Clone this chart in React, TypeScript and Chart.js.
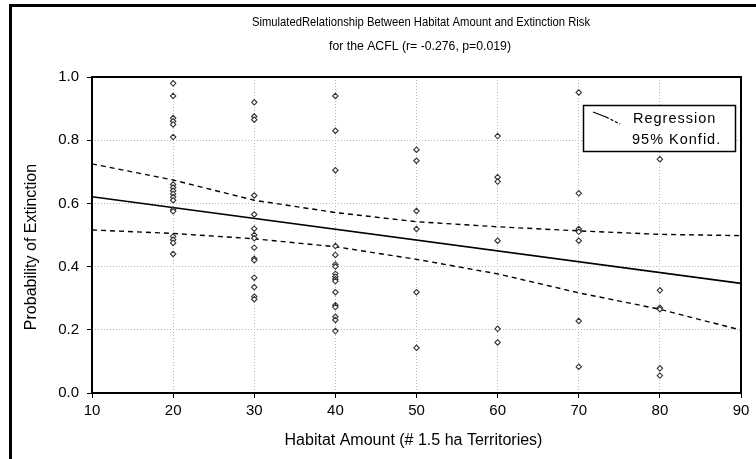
import React, { useEffect, useRef } from 'react';
import { Chart, registerables } from 'chart.js';

Chart.register(...registerables);

// ---- text ----
const titleLine1 = 'SimulatedRelationship Between Habitat Amount and Extinction Risk';
const titleLine2 = 'for the ACFL (r= -0.276, p=0.019)';
const xAxisTitle = 'Habitat Amount (# 1.5 ha Territories)';
const yAxisTitle = 'Probability of Extinction';
const legendLabels = ['Regression', '95% Konfid.'];

// ---- tick labels ----
const xTickValues = [10, 20, 30, 40, 50, 60, 70, 80, 90];
const yTickLabels = ['0.0', '0.2', '0.4', '0.6', '0.8', '1.0'];

// ---- observed points (habitat amount -> probability of extinction) ----
const habitatColumns = [20, 30, 40, 50, 60, 70, 80];
const risk20 = [0.98, 0.94, 0.87, 0.86, 0.85, 0.81, 0.66, 0.65, 0.64, 0.63, 0.62, 0.61, 0.58, 0.575, 0.495, 0.485, 0.475, 0.44];
const risk30 = [0.92, 0.875, 0.865, 0.625, 0.565, 0.52, 0.5, 0.49, 0.46, 0.425, 0.42, 0.365, 0.335, 0.305, 0.297];
const risk40 = [0.94, 0.83, 0.705, 0.465, 0.437, 0.407, 0.4, 0.377, 0.368, 0.36, 0.354, 0.319, 0.278, 0.272, 0.241, 0.231, 0.196];
const risk50 = [0.77, 0.735, 0.576, 0.519, 0.319, 0.143];
const risk60 = [0.813, 0.683, 0.669, 0.482, 0.203, 0.16];
const risk70 = [0.951, 0.632, 0.519, 0.51, 0.482, 0.228, 0.083];
const risk80 = [0.74, 0.325, 0.27, 0.265, 0.078, 0.055];
const riskByColumn = [risk20, risk30, risk40, risk50, risk60, risk70, risk80];

// ---- regression line and 95% confidence band ----
const regressionX = [10, 90];
const regressionY = [0.621, 0.347];
const bandX = [10, 20, 30, 40, 50, 60, 70, 80, 90];
const upperBandY = [0.725, 0.674, 0.61, 0.571, 0.542, 0.526, 0.513, 0.502, 0.498];
const lowerBandY = [0.516, 0.505, 0.488, 0.463, 0.423, 0.377, 0.317, 0.265, 0.199];

const FONT = '"Liberation Sans", Arial, sans-serif';

function fitText(ctx: CanvasRenderingContext2D, text: string, cx: number, cy: number, targetW: number) {
  const w = ctx.measureText(text).width;
  const s = Math.min(1, targetW / w);
  ctx.save();
  ctx.translate(cx, cy);
  ctx.scale(s, 1);
  ctx.fillText(text, 0, 0);
  ctx.restore();
}

const decorPlugin = {
  id: 'decor',
  beforeDraw(chart: any) {
    const ctx = chart.ctx;
    ctx.save();
    ctx.fillStyle = '#ffffff';
    ctx.fillRect(0, 0, chart.width, chart.height);
    ctx.restore();
  },
  afterDatasetsDraw(chart: any) {
    const ctx = chart.ctx;
    const a = chart.chartArea;
    ctx.save();
    ctx.strokeStyle = '#000';
    ctx.lineWidth = 2;
    ctx.strokeRect(a.left, a.top, a.right - a.left, a.bottom - a.top);
    ctx.restore();
  },
  afterDraw(chart: any) {
    const ctx = chart.ctx;
    const a = chart.chartArea;
    ctx.save();
    // outer frame
    ctx.fillStyle = '#000';
    ctx.fillRect(9, 4, 3, chart.height - 4);
    ctx.fillRect(9, 4, chart.width - 9, 3);

    // titles
    ctx.fillStyle = '#000';
    ctx.textAlign = 'center';
    ctx.textBaseline = 'middle';
    ctx.font = `13.5px ${FONT}`;
    fitText(ctx, titleLine1, 421, 22, 338);
    ctx.font = `13.5px ${FONT}`;
    fitText(ctx, titleLine2, 420, 46, 182);

    // x axis title
    ctx.font = `16px ${FONT}`;
    ctx.textBaseline = 'alphabetic';
    ctx.fillText(xAxisTitle, (a.left + a.right) / 2 - 3, 445);

    // y axis title
    ctx.save();
    ctx.translate(36, 247);
    ctx.rotate(-Math.PI / 2);
    ctx.textAlign = 'center';
    ctx.textBaseline = 'alphabetic';
    ctx.fillText(yAxisTitle, 0, 0);
    ctx.restore();

    // legend
    const bx = 583.5, by = 105.5, bw = 152, bh = 46;
    ctx.fillStyle = '#fff';
    ctx.fillRect(bx, by, bw, bh);
    ctx.strokeStyle = '#000';
    ctx.lineWidth = 1.5;
    ctx.strokeRect(bx, by, bw, bh);
    ctx.lineWidth = 1.3;
    ctx.beginPath();
    ctx.moveTo(593, 112);
    ctx.lineTo(606, 117);
    ctx.stroke();
    ctx.setLineDash([3, 2]);
    ctx.beginPath();
    ctx.moveTo(606, 117);
    ctx.lineTo(620, 124);
    ctx.stroke();
    ctx.setLineDash([]);
    ctx.fillStyle = '#000';
    ctx.textAlign = 'left';
    ctx.textBaseline = 'middle';
    ctx.font = `14.5px ${FONT}`;
    try { (ctx as any).letterSpacing = '1px'; } catch (e) {}
    ctx.fillText(legendLabels[0], 633, 119);
    ctx.fillText(legendLabels[1], 632, 140);
    ctx.restore();
  },
};

export default function App() {
  const ref = useRef<HTMLCanvasElement | null>(null);

  useEffect(() => {
    if (!ref.current) return;
    const points: { x: number; y: number }[] = [];
    habitatColumns.forEach((h, i) => {
      riskByColumn[i].forEach((r) => points.push({ x: h, y: r }));
    });
    const regression = regressionX.map((x, i) => ({ x, y: regressionY[i] }));
    const upper = bandX.map((x, i) => ({ x, y: upperBandY[i] }));
    const lower = bandX.map((x, i) => ({ x, y: lowerBandY[i] }));

    const chart = new Chart(ref.current, {
      type: 'scatter',
      data: {
        datasets: [
          {
            label: 'Observed',
            data: points,
            pointStyle: 'rectRot',
            pointRadius: 2.7,
            borderWidth: 1.1,
            borderColor: '#333',
            backgroundColor: '#fff',
            showLine: false,
          },
          {
            label: legendLabels[0],
            data: regression,
            showLine: true,
            borderColor: '#000',
            borderWidth: 1.6,
            pointRadius: 0,
            fill: false,
          },
          {
            label: legendLabels[1],
            data: upper,
            showLine: true,
            borderColor: '#000',
            borderWidth: 1.4,
            borderDash: [5, 4],
            pointRadius: 0,
            fill: false,
          },
          {
            label: legendLabels[1] + ' lower',
            data: lower,
            showLine: true,
            borderColor: '#000',
            borderWidth: 1.4,
            borderDash: [5, 4],
            pointRadius: 0,
            fill: false,
          },
        ],
      },
      options: {
        animation: false,
        responsive: false,
        maintainAspectRatio: false,
        events: [],
        layout: { padding: { top: 77, right: 15, left: 0, bottom: 0 } },
        plugins: {
          legend: { display: false },
          title: { display: false },
          tooltip: { enabled: false },
        },
        scales: {
          x: {
            type: 'linear',
            min: xTickValues[0],
            max: xTickValues[xTickValues.length - 1],
            afterBuildTicks: (scale: any) => {
              scale.ticks = xTickValues.map((v) => ({ value: v }));
            },
            afterFit: (scale: any) => {
              scale.height = 66;
            },
            ticks: {
              color: '#000',
              font: { family: FONT, size: 15 },
              padding: 4,
              maxRotation: 0,
              autoSkip: false,
              callback: (v: any) => String(v),
            },
            grid: {
              color: '#b4b4b4',
              lineWidth: 1,
              tickLength: 5,
              tickColor: '#000',
              tickWidth: 1,
            },
            border: { display: false, dash: [1, 2] },
          },
          y: {
            type: 'linear',
            min: 0,
            max: 1,
            afterBuildTicks: (scale: any) => {
              scale.ticks = yTickLabels.map((t) => ({ value: parseFloat(t) }));
            },
            afterFit: (scale: any) => {
              scale.width = 92;
            },
            ticks: {
              color: '#000',
              font: { family: FONT, size: 15 },
              padding: 8,
              autoSkip: false,
              callback: (_v: any, i: number) => yTickLabels[i],
            },
            grid: {
              color: '#b4b4b4',
              lineWidth: 1,
              tickLength: 5,
              tickColor: '#000',
              tickWidth: 1,
            },
            border: { display: false, dash: [1, 2] },
          },
        },
      },
      plugins: [decorPlugin],
    } as any);
    return () => chart.destroy();
  }, []);

  return (
    <div style={{ position: 'fixed', left: 0, top: 0, width: 756, height: 459, background: '#fff' }}>
      <canvas ref={ref} width={756} height={459} style={{ width: 756, height: 459, display: 'block' }} />
    </div>
  );
}
